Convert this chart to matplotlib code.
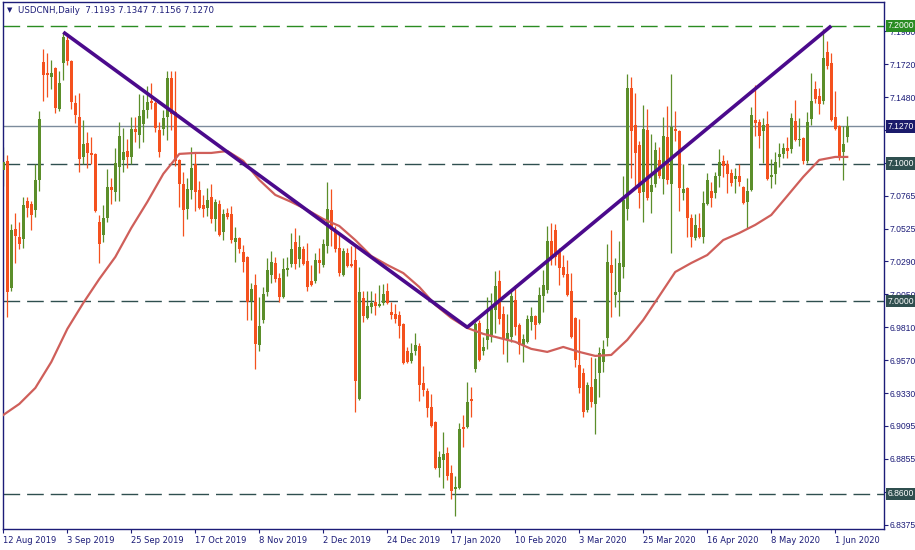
import numpy as np
import pandas as pd
import matplotlib
matplotlib.use("Agg")
import matplotlib.pyplot as plt

# ---------------- data ----------------
symbol_title = "USDCNH,Daily  7.1193 7.1347 7.1156 7.1270"

opens = [
7.0953,7.1019,7.0096,7.0525,7.0466,7.0452,7.0728,7.0706,7.0663,7.0881,
7.1738,7.1658,7.1629,7.1695,7.1397,7.1731,7.1898,7.1746,7.1440,7.1338,
7.1048,7.1149,7.1077,7.1070,7.0575,7.0481,7.0604,7.0830,7.0794,7.0975,
7.1026,7.1091,7.1048,7.1251,7.1208,7.1288,7.1389,7.1455,7.1440,7.1244,
7.1251,7.1338,7.1622,7.1375,7.1026,7.0852,7.0670,7.0808,7.0997,7.0808,
7.0699,7.0677,7.0757,7.0597,7.0706,7.0503,7.0641,7.0634,7.0430,7.0459,
7.0357,7.0321,7.0002,7.0118,6.9682,6.9863,7.0066,7.0190,7.0277,7.0168,
7.0030,7.0226,7.0270,7.0430,7.0306,7.0379,7.0292,7.0146,7.0146,7.0299,
7.0263,7.0401,7.0663,7.0517,7.0386,7.0190,7.0350,7.0270,7.0299,6.9289,
7.0023,6.9878,6.9958,6.9994,6.9965,6.9987,7.0074,6.9921,6.9907,6.9900,
6.9834,6.9638,6.9565,6.9638,6.9675,6.9405,6.9347,6.9231,6.9122,6.8787,
6.8846,6.8896,6.8751,6.8635,6.8642,6.9086,6.9086,6.9289,6.9507,6.9841,
6.9638,6.9718,6.9740,6.9936,7.0146,6.9907,6.9725,6.9740,7.0009,6.9827,
6.9675,6.9704,6.9849,6.9892,6.9841,7.0037,7.0081,7.0437,7.0517,7.0357,
7.0248,7.0197,7.0074,6.9878,6.9536,6.9478,6.9209,6.9376,6.9253,6.9478,
6.9558,6.9733,7.0263,7.0045,7.0066,7.0248,7.0670,7.1550,7.1280,7.1135,
7.0794,7.1244,7.0794,7.0852,7.1026,7.0888,7.1193,7.0852,7.1251,7.1237,
7.0786,7.0823,7.0604,7.0459,7.0532,7.0466,7.0706,7.0801,7.0786,7.0910,
7.1019,7.0997,7.0932,7.0888,7.0910,7.0830,7.0721,7.0808,7.1317,7.1302,
7.1237,7.1288,7.0903,7.0924,7.1048,7.1070,7.1113,7.1106,7.1309,7.1171,
7.1186,7.1019,7.1324,7.1543,7.1491,7.1455,7.1811,7.1731,7.1338,7.1273,
7.1084,7.1193]

highs = [
7.1120,7.1063,7.0561,7.0641,7.0575,7.0757,7.0757,7.0728,7.0997,7.1382,
7.1833,7.1804,7.1753,7.1702,7.1673,7.1956,7.1949,7.1753,7.1499,7.1513,
7.1317,7.1229,7.1193,7.1077,7.0627,7.0699,7.0961,7.0895,7.1113,7.1302,
7.1258,7.1178,7.1338,7.1338,7.1506,7.1499,7.1564,7.1586,7.1455,7.1302,
7.1389,7.1673,7.1673,7.1673,7.1033,7.0939,7.0895,7.1120,7.1077,7.0873,
7.0772,7.0823,7.0852,7.0743,7.0735,7.0670,7.0677,7.0692,7.0539,7.0466,
7.0408,7.0328,7.0132,7.0197,7.0030,7.0103,7.0314,7.0364,7.0321,7.0204,
7.0314,7.0321,7.0495,7.0532,7.0481,7.0401,7.0422,7.0263,7.0350,7.0386,
7.0452,7.0866,7.0815,7.0546,7.0495,7.0386,7.0386,7.0401,7.0408,7.0248,
7.0074,7.0074,7.0074,7.0059,7.0118,7.0125,7.0132,6.9994,6.9980,6.9929,
6.9841,6.9667,6.9697,6.9769,6.9697,6.9529,6.9369,6.9325,6.9129,6.8911,
6.9050,6.8940,6.8809,6.8729,6.9115,6.9173,6.9413,6.9376,6.9849,6.9863,
6.9740,7.0030,7.0059,7.0219,7.0226,6.9965,6.9907,7.0088,7.0118,6.9841,
6.9762,6.9900,6.9958,6.9900,7.0103,7.0226,7.0546,7.0568,7.0561,7.0386,
7.0335,7.0299,7.0204,6.9885,6.9871,6.9514,6.9413,6.9594,6.9587,6.9667,
6.9718,7.0415,7.0517,7.0314,7.0437,7.0910,7.1651,7.1629,7.1513,7.1164,
7.1426,7.1397,7.1215,7.1157,7.1120,7.1338,7.1418,7.1651,7.1382,7.1244,
7.0997,7.0830,7.0634,7.0634,7.0641,7.0801,7.0932,7.0866,7.0939,7.1106,
7.1063,7.1026,7.0961,7.0968,7.0997,7.0837,7.0895,7.1411,7.1571,7.1324,
7.1331,7.1382,7.1033,7.1084,7.1149,7.1149,7.1193,7.1367,7.1462,7.1331,
7.1193,7.1375,7.1658,7.1600,7.1549,7.1978,7.1891,7.1804,7.1528,7.1280,
7.1273,7.1347]

lows = [
7.0837,6.9885,7.0074,7.0277,7.0379,7.0386,7.0612,7.0517,7.0612,7.0801,
7.1455,7.1484,7.1543,7.1367,7.1382,7.1608,7.1716,7.1397,7.1295,7.0939,
7.0997,7.0968,7.0997,7.0648,7.0277,7.0430,7.0575,7.0706,7.0728,7.0728,
7.0939,7.0968,7.0997,7.1157,7.1113,7.1157,7.1331,7.1397,7.1229,7.1048,
7.1208,7.1171,7.1244,7.0983,7.0684,7.0473,7.0597,7.0743,7.0656,7.0670,
7.0612,7.0619,7.0568,7.0510,7.0473,7.0444,7.0597,7.0422,7.0284,7.0350,
7.0212,6.9863,6.9863,6.9507,6.9638,6.9841,7.0037,7.0132,7.0139,6.9994,
7.0023,7.0183,7.0248,7.0234,7.0248,7.0263,7.0074,7.0110,7.0132,7.0204,
7.0248,7.0350,7.0401,7.0357,7.0183,7.0183,7.0248,7.0248,6.9194,6.9282,
6.9849,6.9871,6.9914,6.9900,6.9958,6.9973,6.9980,6.9871,6.9841,6.9733,
6.9543,6.9551,6.9551,6.9609,6.9274,6.9311,6.9158,6.9086,6.8780,6.8722,
6.8642,6.8700,6.8562,6.8438,6.8635,6.8940,6.9078,6.9158,6.9485,6.9565,
6.9609,6.9653,6.9704,6.9769,6.9834,6.9616,6.9558,6.9704,6.9755,6.9616,
6.9558,6.9697,6.9790,6.9725,6.9834,6.9921,7.0059,7.0263,7.0263,7.0118,
7.0175,7.0037,6.9733,6.9522,6.9333,6.9158,6.9194,6.9231,6.9035,6.9303,
6.9485,6.9675,6.9885,6.9958,6.9892,7.0168,7.0590,7.0895,7.0823,7.0677,
7.0575,7.0735,7.0641,7.0830,7.0895,7.0779,7.0852,7.0350,7.1164,7.0656,
7.0735,7.0466,7.0394,7.0444,7.0459,7.0422,7.0699,7.0684,7.0750,7.0830,
7.0903,7.0786,7.0837,7.0786,7.0837,7.0706,7.0532,7.0801,7.1200,7.1113,
7.1004,7.0881,7.0823,7.0852,7.0975,7.1041,7.1041,7.1077,7.1164,7.1128,
7.0997,7.1004,7.1280,7.1440,7.1360,7.1433,7.1687,7.1309,7.1244,7.1026,
7.0881,7.1156]

closes = [
7.1011,7.0066,7.0517,7.0473,7.0415,7.0699,7.0677,7.0627,7.0881,7.1324,
7.1644,7.1644,7.1658,7.1404,7.1586,7.1920,7.1746,7.1448,7.1353,7.1033,
7.1142,7.1077,7.1063,7.0656,7.0415,7.0604,7.0830,7.0808,7.1004,7.1200,
7.1084,7.1048,7.1251,7.1229,7.1346,7.1389,7.1448,7.1440,7.1258,7.1084,
7.1331,7.1622,7.1360,7.1019,7.0852,7.0663,7.0815,7.0968,7.0794,7.0677,
7.0670,7.0735,7.0597,7.0721,7.0481,7.0634,7.0612,7.0444,7.0459,7.0379,
7.0284,6.9994,7.0088,6.9689,6.9820,7.0052,7.0226,7.0284,7.0161,7.0030,
7.0234,7.0241,7.0379,7.0270,7.0394,7.0270,7.0103,7.0118,7.0299,7.0277,
7.0415,7.0670,7.0517,7.0379,7.0204,7.0364,7.0255,7.0255,6.9420,7.0066,
6.9892,6.9965,6.9987,6.9965,6.9980,7.0052,6.9987,6.9900,6.9871,6.9820,
6.9551,6.9558,6.9623,6.9682,6.9391,6.9354,6.9224,6.9093,6.8787,6.8867,
6.8889,6.8729,6.8620,6.8649,6.9071,6.9071,6.9267,6.9274,6.9834,6.9572,
6.9667,6.9798,6.9951,7.0110,6.9871,6.9725,6.9769,7.0037,6.9812,6.9682,
6.9725,6.9871,6.9892,6.9827,7.0045,7.0118,7.0437,7.0314,7.0321,7.0241,
7.0190,7.0045,6.9740,6.9572,6.9369,6.9194,6.9391,6.9267,6.9434,6.9623,
6.9653,7.0284,7.0204,7.0066,7.0277,7.0735,7.1550,7.1237,7.1077,7.0786,
7.1251,7.0750,7.0845,7.1099,7.0910,7.1200,7.0881,7.1266,7.1237,7.0823,
7.0815,7.0604,7.0466,7.0554,7.0466,7.0713,7.0881,7.0750,7.0910,7.1011,
7.0983,7.0924,7.0859,7.0910,7.0866,7.0713,7.0801,7.1353,7.1295,7.1200,
7.1280,7.0888,7.0917,7.1011,7.1070,7.1113,7.1091,7.1331,7.1171,7.1178,
7.1019,7.1302,7.1455,7.1470,7.1433,7.1767,7.1709,7.1317,7.1251,7.1048,
7.1142,7.1270]

# moving average read at selected bars (1-based bar numbers)
ma_bar = [1,5,9,13,17,21,25,29,33,37,41,45,49,53,57,61,65,69,73,77,81,85,89,93,97,
          101,105,109,113,117,121,125,129,133,137,141,145,149,153,157,161,165,169,
          173,177,181,185,189,193,197,201,205,209,212]
ma_val = [6.9173,6.9253,6.9369,6.9558,6.9798,6.9987,7.0161,7.0321,7.0532,7.0721,
          7.0925,7.1070,7.1077,7.1077,7.1091,7.1019,7.0881,7.0772,7.0721,7.0663,
          7.0597,7.0546,7.0444,7.0328,7.0263,7.0204,7.0103,6.9973,6.9878,6.9805,
          6.9762,6.9733,6.9704,6.9653,6.9631,6.9667,6.9631,6.9602,6.9609,6.9718,
          6.9863,7.0037,7.0212,7.0277,7.0335,7.0444,7.0495,7.0554,7.0626,7.0764,
          7.0903,7.1026,7.1048,7.1048]

# trend line anchors (1-based bar numbers, price)
trend_bar = [16, 117, 208]
trend_val = [7.1955, 6.9810, 7.2000]

# horizontal levels
level_top = 7.2000
levels_dark = [7.1000, 7.0000, 6.8600]
last_price = 7.1270

price_ticks = [6.8375, 6.8615, 6.8855, 6.9095, 6.9330, 6.9570, 6.9810, 7.0050,
               7.0290, 7.0525, 7.0765, 7.1005, 7.1245, 7.1480, 7.1720, 7.1960]
date_tick_every = 16

# ---------------- dates (weekdays, broker skips Dec 25 / Jan 1) ----------------
days = pd.bdate_range("2019-08-12", periods=230)
days = days[~days.isin(pd.to_datetime(["2019-12-25", "2020-01-01"]))][:len(opens)]

# ---------------- styling ----------------
BULL = "#5B8E2A"
BEAR = "#F4511E"
NAVY = "#1C1C78"
MA_C = "#CF5F5A"
TREND = "#4B0A8C"
DARK = "#2F4F4F"
GREEN_L = "#2A8C22"
AXFONT = "Liberation Sans"

fig = plt.figure(figsize=(9.15, 5.5), dpi=100)
W, H = 915, 550
ax = fig.add_axes([3 / W, 21 / H, 881 / W, 527 / H])
ax.set_facecolor("white")

n = len(opens)
x = np.arange(n)
o = np.array(opens); h = np.array(highs); l = np.array(lows); c = np.array(closes)
up = c >= o
cols = np.where(up, BULL, BEAR)

# levels (behind candles)
ax.axhline(level_top, color=GREEN_L, lw=1.0, dashes=(12, 5), zorder=1)
for lv in levels_dark:
    ax.axhline(lv, color=DARK, lw=1.0, dashes=(12, 5), zorder=1)
ax.axhline(last_price, color="#7C8B9C", lw=1.0, zorder=1)

# candles
ax.vlines(x, l, h, colors=cols, lw=0.9, zorder=2)
body_lo = np.minimum(o, c)
body_h = np.maximum(np.abs(c - o), 0.0007)
ax.bar(x, body_h, bottom=body_lo, width=0.74, color=cols, linewidth=0, zorder=3)

# moving average
ax.plot(np.array(ma_bar) - 1, ma_val, color=MA_C, lw=1.6, zorder=4)

# trend lines
ax.plot(np.array(trend_bar) - 1, trend_val, color=TREND, lw=2.6, zorder=5,
        solid_capstyle="butt")

ax.set_xlim(-0.08, 220.2)
ax.set_ylim(6.8344, 7.2174)

for s in ax.spines.values():
    s.set_color(NAVY)
    s.set_linewidth(1.0)

# y axis on the right
ax.yaxis.tick_right()
ax.set_yticks(price_ticks)
ax.set_yticklabels([f"{v:.4f}" for v in price_ticks], fontfamily=AXFONT)
ax.tick_params(axis="y", direction="out", length=3, width=0.8, color=NAVY,
               labelcolor=NAVY, labelsize=6.2, pad=1)

# x axis dates
xt = list(range(0, n, date_tick_every))
ax.set_xticks(xt)
ax.set_xticklabels([f"{days[i].day} {days[i].strftime('%b %Y')}" for i in xt],
                   ha="left")
ax.tick_params(axis="x", direction="out", length=3, width=0.8, color=NAVY,
               labelcolor=NAVY, labelsize=6, pad=2)

# price boxes on the right axis
def box(val, fc):
    ax.annotate(f"{val:.4f}", xy=(1.0, val), xycoords=("axes fraction", "data"),
                xytext=(4, 0), textcoords="offset pixels", ha="left", va="center",
                fontsize=6.2, fontfamily=AXFONT, color="white", zorder=10,
                annotation_clip=False,
                bbox=dict(boxstyle="square,pad=0.2", fc=fc, ec="none"))

box(level_top, GREEN_L)
box(last_price, "#1B1B6B")
for lv in levels_dark:
    box(lv, DARK)

# title
fig.text(7 / W, 1 - 10.5 / H, "\u25BC", fontsize=5, color=NAVY, va="center", ha="left")
fig.text(18 / W, 1 - 10.5 / H, symbol_title, fontsize=6.2, color=NAVY,
         va="center", ha="left")

fig.savefig("out.png", dpi=100, facecolor="white")
